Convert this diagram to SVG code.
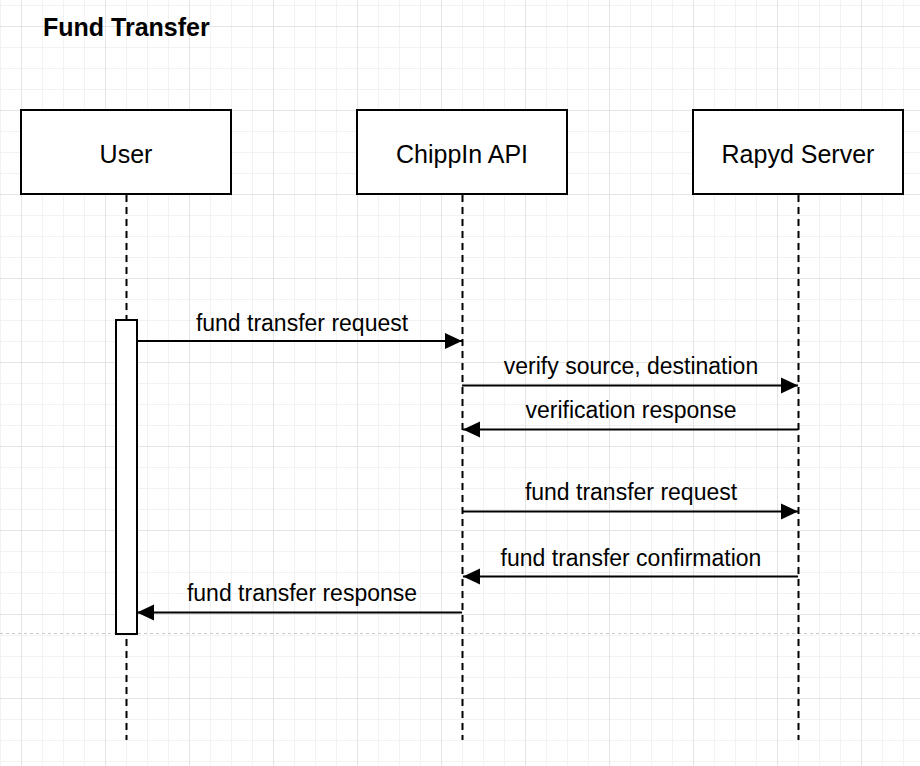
<svg xmlns="http://www.w3.org/2000/svg" width="920" height="766" viewBox="0 0 920 766">
  <style>
    .box { fill: #ffffff; stroke: #000000; stroke-width: 2; }
    .life { stroke: #000000; stroke-width: 2; stroke-dasharray: 7 5; fill: none; }
    .msg { stroke: #000000; stroke-width: 2; fill: none; }
    .lbl { font-family: "Liberation Sans", Arial, sans-serif; font-size: 23px; fill: #000000; text-anchor: middle; }
    .name { font-family: "Liberation Sans", Arial, sans-serif; font-size: 25px; fill: #000000; text-anchor: middle; }
    .title { font-family: "Liberation Sans", Arial, sans-serif; font-size: 25px; font-weight: bold; fill: #000000; }
  </style>
  <defs>
    <pattern id="grid" patternUnits="userSpaceOnUse" x="21" y="26" width="84" height="84">
      <path d="M21.5 0V84M42.5 0V84M63.5 0V84M0 21.5H84M0 42.5H84M0 63.5H84" stroke="#f2f2f2" stroke-width="1" fill="none"/>
      <path d="M0.5 0V84M0 0.5H84" stroke="#e4e4e4" stroke-width="1" fill="none"/>
    </pattern>
    <marker id="arr" markerUnits="userSpaceOnUse" markerWidth="18" markerHeight="18" refX="17" refY="9" orient="auto">
      <path d="M0 1L17 9L0 17Z" fill="#000000"/>
    </marker>
  </defs>
  <rect x="0" y="0" width="920" height="766" fill="#ffffff"/>
  <rect x="0" y="0" width="920" height="766" fill="url(#grid)"/>
  <line x1="0" y1="633.5" x2="920" y2="633.5" stroke="#c8c8c8" stroke-width="1" stroke-dasharray="3 3"/>

  <text class="title" x="43" y="36">Fund Transfer</text>

  <g id="user">
    <line class="life" x1="126.5" y1="195" x2="126.5" y2="740"/>
    <rect class="box" x="21" y="110" width="210" height="84"/>
    <text class="name" x="126" y="163">User</text>
  </g>
  <g id="api">
    <line class="life" x1="462.5" y1="195" x2="462.5" y2="740"/>
    <rect class="box" x="357" y="110" width="210" height="84"/>
    <text class="name" x="462" y="163">ChippIn API</text>
  </g>
  <g id="rapyd">
    <line class="life" x1="798.5" y1="195" x2="798.5" y2="740"/>
    <rect class="box" x="693" y="110" width="210" height="84"/>
    <text class="name" x="798" y="163">Rapyd Server</text>
  </g>
  <g id="activation">
    <rect class="box" x="116" y="320" width="21" height="314"/>
  </g>

  <g id="connectors">
    <line class="msg" x1="137" y1="341" x2="462" y2="341" marker-end="url(#arr)"/>
    <text class="lbl" x="302" y="331">fund transfer request</text>

    <line class="msg" x1="462" y1="385.5" x2="798" y2="385.5" marker-end="url(#arr)"/>
    <text class="lbl" x="631" y="374">verify source, destination</text>

    <line class="msg" x1="798" y1="429.5" x2="463" y2="429.5" marker-end="url(#arr)"/>
    <text class="lbl" x="631" y="418">verification response</text>

    <line class="msg" x1="462" y1="511.5" x2="798" y2="511.5" marker-end="url(#arr)"/>
    <text class="lbl" x="631" y="500">fund transfer request</text>

    <line class="msg" x1="798" y1="576.5" x2="463" y2="576.5" marker-end="url(#arr)"/>
    <text class="lbl" x="631" y="566">fund transfer confirmation</text>

    <line class="msg" x1="462" y1="612.5" x2="137" y2="612.5" marker-end="url(#arr)"/>
    <text class="lbl" x="302" y="601">fund transfer response</text>
  </g>
</svg>
